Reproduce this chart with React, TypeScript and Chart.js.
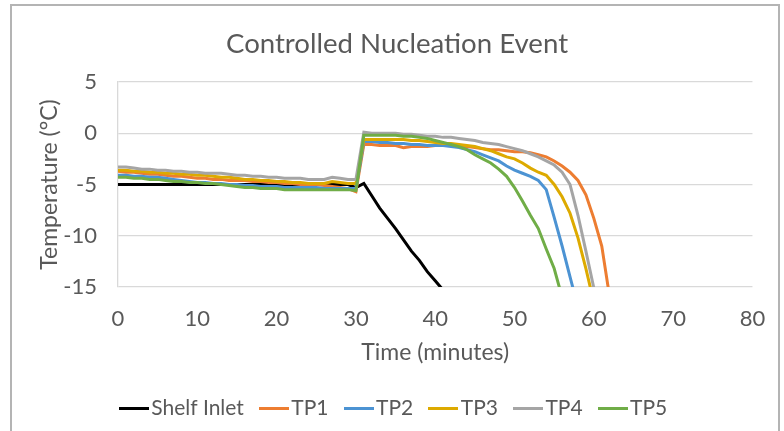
import React, { useEffect, useRef } from 'react';
import { Chart, registerables } from 'chart.js';

Chart.register(...registerables);

const FONT = 'Lato, "Open Sans", sans-serif';
const TEXT = '#595959';

const chartTitle = 'Controlled Nucleation Event';
const xTitle = 'Time (minutes)';
const yTitle = 'Temperature (°C)';

const timeMin = [
  0, 1, 2, 3, 4, 5, 6, 7, 8, 9,
  10, 11, 12, 13, 14, 15, 16, 17, 18, 19,
  20, 21, 22, 23, 24, 25, 26, 27, 28, 29,
  30, 31, 32, 33, 34, 35, 36, 37, 38, 39,
  40, 41, 42, 43, 44, 45, 46, 47, 48, 49,
  50, 51, 52, 53, 54, 55, 56, 57, 58, 59,
  60, 61, 62,
];

const seriesNames = ['Shelf Inlet', 'TP1', 'TP2', 'TP3', 'TP4', 'TP5'];
const seriesColors = ['#000000', '#ED7D31', '#4C93D3', '#DDAA00', '#A5A5A5', '#70AD47'];

const shelfInlet = [
  -5.0, -5.0, -5.0, -5.0, -5.0, -5.0, -5.0, -5.0, -5.0, -5.0,
  -5.0, -5.0, -5.0, -5.0, -5.0, -5.0, -5.0, -5.0, -5.0, -5.0,
  -5.0, -5.0, -5.0, -5.0, -5.0, -5.0, -5.0, -5.0, -5.0, -5.0,
  -5.3, -4.9, -6.1, -7.3, -8.3, -9.3, -10.4, -11.5, -12.4, -13.5,
  -14.4, -15.3, -16.2,
];

const tp1 = [
  -3.7, -3.8, -3.8, -3.9, -4.0, -4.0, -4.1, -4.2, -4.2, -4.3,
  -4.4, -4.4, -4.5, -4.5, -4.6, -4.6, -4.6, -4.7, -4.7, -4.8,
  -4.8, -4.9, -4.9, -5.0, -5.0, -5.0, -5.1, -5.2, -5.3, -5.4,
  -5.7, -1.1, -1.1, -1.2, -1.2, -1.2, -1.4, -1.3, -1.3, -1.3,
  -1.2, -1.2, -1.2, -1.3, -1.3, -1.4, -1.5, -1.6, -1.6, -1.7,
  -1.8, -1.8, -1.9, -2.1, -2.3, -2.7, -3.2, -3.8, -4.6, -6.0,
  -8.3, -11.0, -16.0,
];

const tp2 = [
  -4.1, -4.1, -4.2, -4.2, -4.3, -4.3, -4.4, -4.5, -4.6, -4.7,
  -4.8, -4.8, -4.9, -4.9, -5.0, -5.0, -5.1, -5.1, -5.2, -5.2,
  -5.2, -5.3, -5.3, -5.3, -5.3, -5.3, -5.4, -5.4, -5.4, -5.4,
  -5.4, -0.8, -0.8, -0.9, -0.9, -1.0, -1.0, -1.1, -1.1, -1.2,
  -1.2, -1.2, -1.3, -1.4, -1.6, -1.8, -2.1, -2.4, -2.7, -3.2,
  -3.6, -3.9, -4.2, -4.6, -5.5, -8.2, -11.0, -14.0, -17.0,
];

const tp3 = [
  -3.6, -3.6, -3.7, -3.7, -3.8, -3.8, -3.9, -3.9, -4.0, -4.0,
  -4.1, -4.1, -4.2, -4.3, -4.3, -4.4, -4.5, -4.5, -4.6, -4.6,
  -4.7, -4.7, -4.8, -4.8, -4.9, -4.9, -4.9, -4.7, -4.8, -4.9,
  -4.9, -0.6, -0.6, -0.6, -0.6, -0.6, -0.6, -0.7, -0.7, -0.8,
  -0.9, -1.0, -1.0, -1.1, -1.2, -1.3, -1.5, -1.7, -2.0, -2.3,
  -2.5, -2.9, -3.4, -3.8, -4.1, -5.0, -6.2, -7.8, -10.2, -13.2,
  -16.5,
];

const tp4 = [
  -3.3, -3.3, -3.4, -3.5, -3.5, -3.6, -3.6, -3.7, -3.7, -3.8,
  -3.8, -3.9, -3.9, -3.9, -4.0, -4.1, -4.1, -4.2, -4.2, -4.3,
  -4.3, -4.4, -4.4, -4.4, -4.5, -4.5, -4.5, -4.3, -4.4, -4.5,
  -4.5, 0.1, 0.0, 0.0, 0.0, 0.0, -0.1, -0.1, -0.2, -0.3,
  -0.3, -0.4, -0.4, -0.5, -0.6, -0.7, -0.9, -1.0, -1.1, -1.3,
  -1.5, -1.7, -2.0, -2.3, -2.7, -3.1, -3.8, -5.0, -8.0, -11.5,
  -15.1,
];

const tp5 = [
  -4.3, -4.3, -4.4, -4.4, -4.5, -4.5, -4.6, -4.7, -4.7, -4.8,
  -4.8, -4.9, -4.9, -5.0, -5.1, -5.2, -5.3, -5.3, -5.4, -5.4,
  -5.4, -5.5, -5.5, -5.5, -5.5, -5.5, -5.5, -5.5, -5.5, -5.5,
  -5.6, -0.2, -0.2, -0.2, -0.2, -0.2, -0.3, -0.3, -0.4, -0.5,
  -0.7, -0.9, -1.1, -1.3, -1.6, -2.1, -2.5, -2.9, -3.5, -4.2,
  -5.3, -6.6, -8.0, -9.3, -11.3, -13.2, -16.0,
];

const seriesValues = [shelfInlet, tp1, tp2, tp3, tp4, tp5];

const xMin = 0;
const xMax = 80;
const xStep = 10;
const yMin = -15;
const yMax = 5;
const yStep = 5;

export default function App() {
  const ref = useRef<HTMLCanvasElement | null>(null);

  useEffect(() => {
    document.body.style.margin = '0';
    const canvas = ref.current;
    if (!canvas) return;

    const swatches = seriesColors.map((c) => {
      const s = document.createElement('canvas');
      s.width = 30;
      s.height = 3;
      const g = s.getContext('2d');
      if (g) {
        g.fillStyle = c;
        g.fillRect(0, 0, 30, 3);
      }
      return s;
    });

    const datasets = seriesNames.map((name, k) => ({
      label: name,
      data: seriesValues[k].map((v, i) => ({ x: timeMin[i], y: v })),
      borderColor: seriesColors[k],
      backgroundColor: seriesColors[k],
      borderWidth: 3,
      pointRadius: 0,
      pointHoverRadius: 0,
      tension: 0,
      fill: false,
      order: seriesNames.length - k,
    }));

    const chart = new Chart(canvas, {
      type: 'line',
      data: { datasets },
      options: {
        responsive: false,
        animation: false,
        events: [],
        layout: { padding: { left: 10, right: 0, top: 0, bottom: 2.5 } },
        plugins: {
          title: {
            display: true,
            text: chartTitle,
            color: TEXT,
            font: { family: FONT, size: 27.6, weight: 'normal' },
            padding: { top: 27.4, bottom: 21.5 },
          },
          legend: {
            display: true,
            position: 'bottom',
            labels: {
              usePointStyle: true,
              pointStyleWidth: 14,
              padding: 23,
              color: TEXT,
              font: { family: FONT, size: 21 },
              sort: (a: any, b: any) => a.datasetIndex - b.datasetIndex,
              generateLabels: (ch: any) => {
                const items = (Chart.defaults.plugins.legend.labels as any).generateLabels(ch);
                return items.map((it: any) => ({ ...it, pointStyle: swatches[it.datasetIndex] }));
              },
            },
          },
          tooltip: { enabled: false },
        },
        scales: {
          x: {
            type: 'linear',
            min: xMin,
            max: xMax,
            ticks: { stepSize: xStep, padding: 18.8, color: TEXT, font: { family: FONT, size: 22 } },
            grid: { display: false, drawTicks: false },
            border: { display: false },
            title: {
              display: true,
              text: xTitle,
              color: TEXT,
              font: { family: FONT, size: 23 },
              padding: { top: 0, bottom: 7.7 },
            },
            afterFit: (s: any) => {
              s.height = 87.5;
            },
          },
          y: {
            type: 'linear',
            min: yMin,
            max: yMax,
            ticks: { stepSize: yStep, padding: 21, color: TEXT, font: { family: FONT, size: 22 } },
            grid: { color: '#d9d9d9', lineWidth: 1.3, drawTicks: false },
            border: { display: true, color: '#d9d9d9', width: 1.3 },
            title: {
              display: true,
              text: yTitle,
              color: TEXT,
              font: { family: FONT, size: 23 },
              padding: { top: 26.2, bottom: 0 },
            },
            afterFit: (s: any) => {
              s.width = 108;
            },
          },
          yRight: {
            type: 'linear',
            position: 'right',
            display: true,
            grid: { display: false, drawTicks: false },
            border: { display: false },
            ticks: { display: false },
            afterFit: (s: any) => {
              s.width = 29;
            },
          },
        },
      } as any,
    });

    return () => chart.destroy();
  }, []);

  return (
    <div
      style={{
        position: 'fixed',
        left: 0,
        top: 0,
        width: 784,
        height: 431,
        overflow: 'hidden',
        background: '#ffffff',
      }}
    >
      <canvas ref={ref} width={784} height={431} style={{ display: 'block', width: 784, height: 431 }} />
      <div
        style={{
          position: 'absolute',
          left: 10,
          top: 4,
          width: 770,
          height: 500,
          border: '2px solid #b4b4b4',
          boxSizing: 'border-box',
          pointerEvents: 'none',
        }}
      />
    </div>
  );
}
